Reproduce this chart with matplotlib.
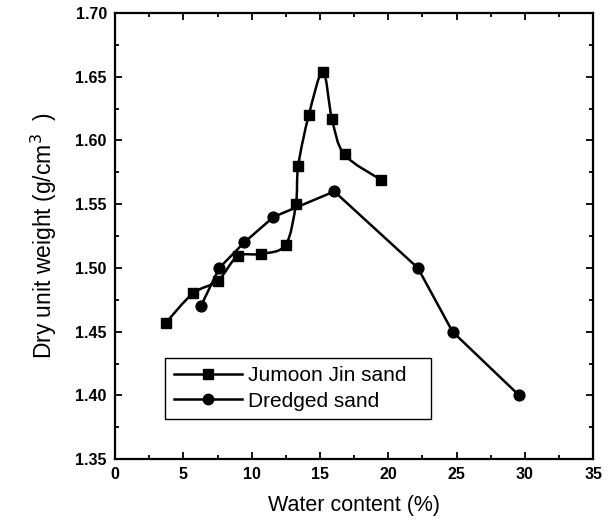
import matplotlib
matplotlib.use("Agg")
import matplotlib.pyplot as plt
import numpy as np
from matplotlib.path import Path
from matplotlib.patches import PathPatch
from matplotlib.lines import Line2D
from matplotlib.ticker import MultipleLocator, FormatStrFormatter

plt.rcParams['font.family'] = ['Liberation Sans', 'DejaVu Sans']

# water content (%) and dry unit weight (g/cm3)
jumoon_w = [3.71, 5.69, 7.52, 8.96, 10.69, 12.47, 13.23, 13.40, 14.18, 15.21, 15.87, 16.79, 19.48]
jumoon_d = [1.457, 1.480, 1.490, 1.509, 1.511, 1.518, 1.550, 1.580, 1.620, 1.654, 1.617, 1.589, 1.569]
dredged_w = [6.27, 7.62, 9.45, 11.59, 16.04, 22.16, 24.70, 29.58]
dredged_d = [1.470, 1.500, 1.520, 1.540, 1.560, 1.500, 1.450, 1.400]


def smooth_path(x, y):
    # catmull-rom through the points, written as cubic bezier segments
    p = np.column_stack([x, y])
    p = np.vstack([p[0], p, p[-1]])
    verts = [p[1]]
    codes = [Path.MOVETO]
    for i in range(1, len(p) - 2):
        c1 = p[i] + (p[i + 1] - p[i - 1]) / 6
        c2 = p[i + 1] - (p[i + 2] - p[i]) / 6
        verts += [c1, c2, p[i + 1]]
        codes += [Path.CURVE4] * 3
    return Path(verts, codes)


fig = plt.figure(figsize=(6.16, 5.2), dpi=100)
ax = fig.add_axes([0.187, 0.117, 0.776, 0.858])

lw = 1.8
ax.add_patch(PathPatch(smooth_path(jumoon_w, jumoon_d), fill=False, color='black', lw=lw))
ax.plot(jumoon_w, jumoon_d, 's', color='black', ms=7.2, ls='none')
ax.plot(dredged_w, dredged_d, 'o-', color='black', ms=7.8, lw=lw)

ax.set_xlim(0, 35)
ax.set_ylim(1.35, 1.70)
ax.xaxis.set_major_locator(MultipleLocator(5))
ax.xaxis.set_minor_locator(MultipleLocator(2.5))
ax.yaxis.set_major_locator(MultipleLocator(0.05))
ax.yaxis.set_minor_locator(MultipleLocator(0.025))
ax.yaxis.set_major_formatter(FormatStrFormatter('%.2f'))
ax.tick_params(which='both', direction='in', top=True, right=True, width=1.3)
ax.tick_params(which='major', length=5, labelsize=11.5, pad=6)
ax.tick_params(which='minor', length=3)
for lab in ax.get_xticklabels() + ax.get_yticklabels():
    lab.set_fontweight('bold')
for s in ax.spines.values():
    s.set_linewidth(1.6)

ax.set_xlabel('Water content (%)', fontsize=15.5, labelpad=9)
ax.set_ylabel('Dry unit weight (g/cm$^{3}$  )', fontsize=16.5, labelpad=12)

handles = [
    Line2D([], [], color='black', marker='s', ms=7, lw=lw),
    Line2D([], [], color='black', marker='o', ms=7.5, lw=lw),
]
leg = ax.legend(handles, ['Jumoon Jin sand', 'Dredged sand'], fontsize=15,
                loc='lower left', bbox_to_anchor=(0.105, 0.09, 0.556, 0.143),
                mode='expand', borderaxespad=0, fancybox=False, framealpha=1,
                edgecolor='black', handlelength=3.3, handletextpad=0.25,
                borderpad=0.4, labelspacing=0.3)
leg.get_frame().set_linewidth(1.0)

fig.savefig('out.png', dpi=100)
